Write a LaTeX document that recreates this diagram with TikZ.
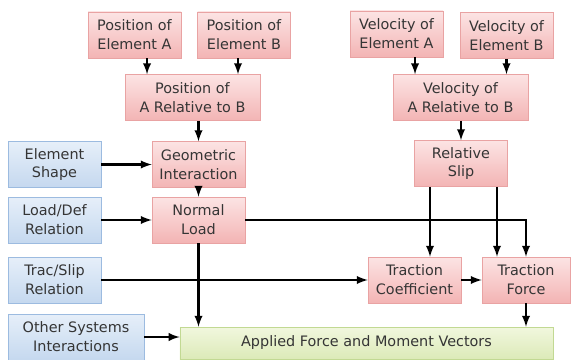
\documentclass[tikz,border=0pt]{standalone}
\usepackage{fontspec}
\setmainfont{DejaVu Sans}
\usetikzlibrary{shapes,positioning}

\definecolor{textgray}{HTML}{353535}
\definecolor{pinktop}{HTML}{FCE4E4}
\definecolor{pinkbot}{HTML}{F3B4B4}
\definecolor{pinkline}{HTML}{E9A3A3}
\definecolor{bluetop}{HTML}{E6EFF9}
\definecolor{bluebot}{HTML}{C5D8EF}
\definecolor{blueline}{HTML}{9CBBE0}
\definecolor{greentop}{HTML}{F1F7DE}
\definecolor{greenbot}{HTML}{DCEAB8}
\definecolor{greenline}{HTML}{C2D993}

\begin{document}
\begin{tikzpicture}[
		x=0.75pt,y=-0.75pt,
		box/.style={
			rectangle,
			align=center,
			text=textgray,
			font=\fontsize{10.8}{14.2}\selectfont,
			minimum width=69.75pt,
			minimum height=34.5pt,
			inner sep=1pt
		},
		pinkbox/.style={box, draw=pinkline, top color=pinktop, bottom color=pinkbot},
		bluebox/.style={box, draw=blueline, top color=bluetop, bottom color=bluebot},
		greenbox/.style={box, draw=greenline, top color=greentop, bottom color=greenbot},
		wire/.style={->, line width=1.8pt},
		>=latex
		]
		\useasboundingbox (0,0) rectangle (571,360);
		
		% Position and velocity inputs
		\node[pinkbox] (posA) at (134.5,35) {Position of\\Element A};
		\node[pinkbox] (posB) at (244,35) {Position of\\Element B};
		\node[pinkbox, minimum width=101pt] (posRel) at (192.5,97.5) {Position of\\A Relative to B};
		\node[pinkbox] (velA) at (396.5,34) {Velocity of\\Element A};
		\node[pinkbox] (velB) at (506.5,35.5) {Velocity of\\Element B};
		\node[pinkbox, minimum width=101pt] (velRel) at (460.5,97.5) {Velocity of\\A Relative to B};
		\node[pinkbox] (slip) at (461,163.5) {Relative\\Slip};
		
		\node[bluebox] (shape) at (54.5,164.5) {Element\\Shape};
		\node[pinkbox] (geom) at (198.5,164.5) {Geometric\\Interaction};
		\node[bluebox] (loaddef) at (54.5,220) {Load/Def\\Relation};
		\node[pinkbox] (normal) at (198.5,220) {Normal\\Load};
		\node[bluebox] (tracslip) at (54.5,280) {Trac/Slip\\Relation};
		\node[pinkbox] (coef) at (414.5,280) {Traction\\Coefficient};
		\node[pinkbox, minimum width=66pt] (force) at (526,280) {Traction\\Force};
		\node[bluebox, minimum width=102pt] (other) at (76,337) {Other Systems\\Interactions};
		\node[greenbox, minimum width=280pt, minimum height=24pt] (applied) at (366.5,343) {Applied Force and Moment Vectors};
		
		\draw[wire] ([xshift=9.4pt]posA.south) -- ([xshift=9.4pt]posA.south |- posRel.north);
		\draw[wire] ([xshift=-4.5pt]posB.south) -- ([xshift=-4.5pt]posB.south |- posRel.north);
		\draw[wire] ([xshift=13.9pt]velA.south) -- ([xshift=13.9pt]velA.south |- velRel.north);
		\draw[wire] (velB.south) -- (velB.south |- velRel.north);
		\draw[wire] (geom.north |- posRel.south) -- (geom.north);
		\draw[wire] (slip.north |- velRel.south) -- (slip.north);
		\draw[wire] (geom.south) -- (normal.north);
		
		\foreach \a/\b in {shape/geom, loaddef/normal, tracslip/coef, coef/force}
		\draw[wire] (\a.east) -- (\b.west);
		\draw[wire] (other.east) -- (other.east -| applied.west);
		
		% Load and slip into traction
		\draw[wire] (normal.east) -| (force.north);
		\draw[wire] ([xshift=-23.25pt]slip.south) -- ([xshift=-23.25pt]slip.south |- coef.north);
		\draw[wire] ([xshift=27pt]slip.south) -- ([xshift=27pt]slip.south |- force.north);
		
		% Final outputs
		\draw[wire] (normal.south) -- (normal.south |- applied.north);
		\draw[wire] (force.south) -- (force.south |- applied.north);
		
		\end{tikzpicture}
\end{document}
